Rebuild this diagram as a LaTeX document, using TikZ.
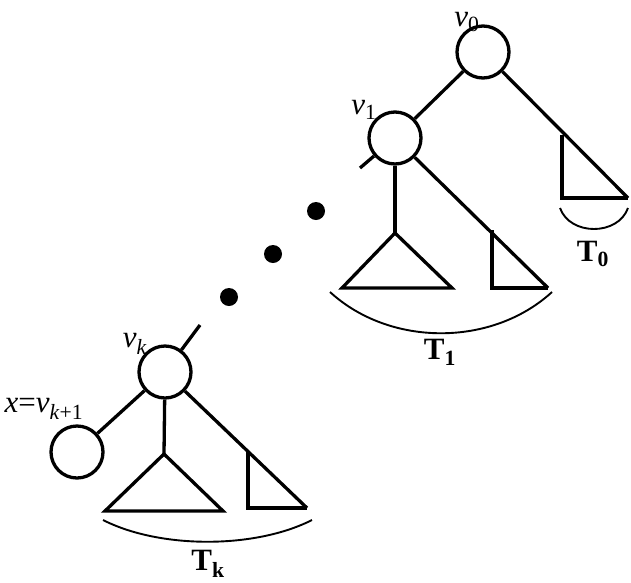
\documentclass[tikz,border=0pt]{standalone}
\usepackage{fontspec}
\setmainfont{Liberation Serif}
\usetikzlibrary{positioning}
\newcommand{\vlab}[2]{\textit{#1}\textsubscript{#2}}
\newcommand{\tlab}[1]{\textbf{T}\textsubscript{\textbf{#1}}}

\begin{document}
\begin{tikzpicture}[x=1pt,y=-1pt,line width=3.3pt,
  vert/.style={circle,draw,minimum size=52pt,inner sep=0pt},
  lab/.style={font=\fontsize{31}{34}\selectfont,inner sep=0pt},
  brace/.style={line width=1.9pt}]
\useasboundingbox (0,0) rectangle (631,582);
% vertices
\node[vert] (v0) at (483,52) {}; \node[vert] (v1) at (395,138) {};
\node[vert] (vk) at (165,372) {}; \node[vert] (x) at (77,452) {};
\node[lab] (lv0) at (467,22) {\vlab{v}{0}}; \node[lab] (lv1) at (364,110) {\vlab{v}{1}};
\node[lab] (lvk) at (135,344) {\vlab{v}{\textit{k}}}; \node[lab] (lx) at (44,409) {\textit{x}=\vlab{v}{\textit{k}+1}};
% subtree corners
\coordinate (a0) at (562,135); \coordinate (b0) at (562,198); \coordinate (c0) at (628,198);
\coordinate (p1) at (395,233); \coordinate (q1) at (342,288); \coordinate (r1) at (452,288);
\coordinate (a1) at (492,230); \coordinate (b1) at (492,288); \coordinate (c1) at (548,288);
\coordinate (pk) at (164,454); \coordinate (qk) at (105,511); \coordinate (rk) at (223,511);
\coordinate (ak) at (248,452); \coordinate (bk) at (248,508); \coordinate (ck) at (307,508);
\coordinate (s1) at (360,168); \coordinate (sk) at (200,325);
% edges
\draw (v0) -- (v1); \draw (v0) -- (c0); \draw (a0) -- (b0) -- (c0);
\draw (v1) -- (s1); \draw (v1) -- (p1); \draw (p1) -- (q1) -- (r1) -- cycle;
\draw (v1) -- (c1); \draw (a1) -- (b1) -- (c1);
\draw (vk) -- (sk); \draw (vk) -- (x); \draw (vk) -- (pk); \draw (pk) -- (qk) -- (rk) -- cycle;
\draw (vk) -- (ck); \draw (ak) -- (bk) -- (ck);
% dots
\foreach \px/\py in {316/211,273/254,229/297} \fill (\px,\py) circle (9pt);
% subtree arcs
\draw[brace] (560,208) .. controls (570,236) and (618,236) .. (628,208);
\draw[brace] (330,292) .. controls (390,347) and (492,347) .. (552,292);
\draw[brace] (103,520) .. controls (160,549) and (255,549) .. (312,520);
\node[lab] (t0) at (593,254) {\tlab{0}}; \node[lab] (t1) at (440,352) {\tlab{1}};
\node[lab] (tk) at (208,564) {\tlab{k}};
\end{tikzpicture}
\end{document}
